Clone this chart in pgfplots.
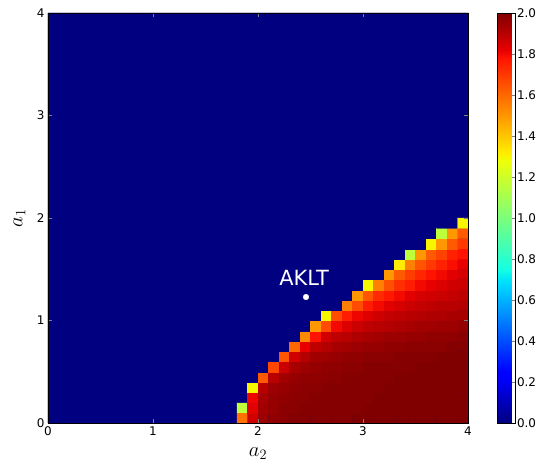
\documentclass[border=0pt]{standalone}
\usepackage{pgfplots}
\pgfplotsset{compat=1.18}
\usepackage{fontspec}
\setmainfont{DejaVu Sans}
\definecolor{jetnavy}{rgb}{0,0,0.5}
\pgfplotsset{
  colormap={mpljet}{rgb(0pt)=(0,0,0.5); rgb(22pt)=(0,0,1); rgb(25pt)=(0,0,1);
    rgb(68pt)=(0,0.86,1); rgb(70pt)=(0,0.9,0.968); rgb(75pt)=(0.081,1,0.887);
    rgb(128pt)=(0.935,1,0.032); rgb(130pt)=(0.968,0.963,0); rgb(132pt)=(1,0.926,0);
    rgb(178pt)=(1,0.074,0); rgb(182pt)=(0.909,0,0); rgb(200pt)=(0.5,0,0)}
}
\begin{document}
\begin{tikzpicture}
\begin{axis}[
  scale only axis, width=420bp, height=410bp,
  xmin=0, xmax=4, ymin=0, ymax=4,
  xtick={0,1,2,3,4}, ytick={0,1,2,3,4},
  tick align=inside, major tick length=4bp,
  xlabel={$a_2$}, ylabel={$a_1$},
  label style={font=\fontsize{20}{24}\selectfont},
  xlabel style={at={(axis description cs:0.5,-0.075)}, anchor=center},
  ylabel style={at={(axis description cs:-0.068,0.5)}, anchor=center},
  ticklabel style={font=\fontsize{12}{14}\selectfont},
  /pgf/number format/assume math mode=true,
  axis background/.style={fill=jetnavy},
  colormap name=mpljet,
  point meta min=0, point meta max=2,
  colorbar,
  colorbar style={
    scale only axis, width=18bp, height=410bp,
    at={(parent axis.north east)}, anchor=north west, xshift=21bp,
    ytick={0,0.2,0.4,0.6,0.8,1,1.2,1.4,1.6,1.8,2},
    ytick pos=right, tick align=inside, major tick length=4bp,
    yticklabel style={font=\fontsize{12}{14}\selectfont, xshift=-2bp,
      /pgf/number format/.cd, fixed, fixed zerofill, precision=1, assume math mode=true},
  },
  axis on top,
]
% blue (zero) regions outside the computed block
\addplot[matrix plot*, mesh/cols=2, point meta=explicit]
  coordinates {(0.45,1)[0] (1.35,1)[0] (0.45,3)[0] (1.35,3)[0]};
\addplot[matrix plot*, mesh/cols=2, point meta=explicit]
  coordinates {(2.35,2.5)[0] (3.45,2.5)[0] (2.35,3.5)[0] (3.45,3.5)[0]};
% block x in [1.8,4], y in [0,2]
\addplot[matrix plot*, mesh/cols=22, point meta=explicit, shader=faceted, faceted color=mapped color, line width=0.3pt]
  coordinates {
(1.85,0.05)[1.58] (1.95,0.05)[1.86] (2.05,0.05)[1.95] (2.15,0.05)[1.97] (2.25,0.05)[1.98] (2.35,0.05)[1.99] (2.45,0.05)[1.99] (2.55,0.05)[1.99] (2.65,0.05)[1.99] (2.75,0.05)[1.99] (2.85,0.05)[1.99] (2.95,0.05)[2] (3.05,0.05)[2] (3.15,0.05)[2] (3.25,0.05)[2] (3.35,0.05)[2] (3.45,0.05)[2] (3.55,0.05)[2] (3.65,0.05)[2] (3.75,0.05)[2] (3.85,0.05)[2] (3.95,0.05)[2]
(1.85,0.15)[1.16] (1.95,0.15)[1.83] (2.05,0.15)[1.94] (2.15,0.15)[1.96] (2.25,0.15)[1.98] (2.35,0.15)[1.98] (2.45,0.15)[1.99] (2.55,0.15)[1.99] (2.65,0.15)[1.99] (2.75,0.15)[1.99] (2.85,0.15)[1.99] (2.95,0.15)[1.99] (3.05,0.15)[2] (3.15,0.15)[2] (3.25,0.15)[2] (3.35,0.15)[2] (3.45,0.15)[2] (3.55,0.15)[2] (3.65,0.15)[2] (3.75,0.15)[2] (3.85,0.15)[2] (3.95,0.15)[2]
(1.85,0.25)[0] (1.95,0.25)[1.81] (2.05,0.25)[1.93] (2.15,0.25)[1.96] (2.25,0.25)[1.97] (2.35,0.25)[1.98] (2.45,0.25)[1.98] (2.55,0.25)[1.99] (2.65,0.25)[1.99] (2.75,0.25)[1.99] (2.85,0.25)[1.99] (2.95,0.25)[1.99] (3.05,0.25)[1.99] (3.15,0.25)[2] (3.25,0.25)[2] (3.35,0.25)[2] (3.45,0.25)[2] (3.55,0.25)[2] (3.65,0.25)[2] (3.75,0.25)[2] (3.85,0.25)[2] (3.95,0.25)[2]
(1.85,0.35)[0] (1.95,0.35)[1.3] (2.05,0.35)[1.9] (2.15,0.35)[1.95] (2.25,0.35)[1.96] (2.35,0.35)[1.97] (2.45,0.35)[1.98] (2.55,0.35)[1.98] (2.65,0.35)[1.99] (2.75,0.35)[1.99] (2.85,0.35)[1.99] (2.95,0.35)[1.99] (3.05,0.35)[1.99] (3.15,0.35)[1.99] (3.25,0.35)[2] (3.35,0.35)[2] (3.45,0.35)[2] (3.55,0.35)[2] (3.65,0.35)[2] (3.75,0.35)[2] (3.85,0.35)[2] (3.95,0.35)[2]
(1.85,0.45)[0] (1.95,0.45)[0] (2.05,0.45)[1.63] (2.15,0.45)[1.9] (2.25,0.45)[1.94] (2.35,0.45)[1.96] (2.45,0.45)[1.97] (2.55,0.45)[1.97] (2.65,0.45)[1.98] (2.75,0.45)[1.98] (2.85,0.45)[1.99] (2.95,0.45)[1.99] (3.05,0.45)[1.99] (3.15,0.45)[1.99] (3.25,0.45)[1.99] (3.35,0.45)[2] (3.45,0.45)[2] (3.55,0.45)[2] (3.65,0.45)[2] (3.75,0.45)[2] (3.85,0.45)[2] (3.95,0.45)[2]
(1.85,0.55)[0] (1.95,0.55)[0] (2.05,0.55)[0] (2.15,0.55)[1.67] (2.25,0.55)[1.87] (2.35,0.55)[1.93] (2.45,0.55)[1.95] (2.55,0.55)[1.96] (2.65,0.55)[1.97] (2.75,0.55)[1.97] (2.85,0.55)[1.98] (2.95,0.55)[1.98] (3.05,0.55)[1.99] (3.15,0.55)[1.99] (3.25,0.55)[1.99] (3.35,0.55)[1.99] (3.45,0.55)[1.99] (3.55,0.55)[2] (3.65,0.55)[2] (3.75,0.55)[2] (3.85,0.55)[2] (3.95,0.55)[2]
(1.85,0.65)[0] (1.95,0.65)[0] (2.05,0.65)[0] (2.15,0.65)[0] (2.25,0.65)[1.64] (2.35,0.65)[1.86] (2.45,0.65)[1.91] (2.55,0.65)[1.94] (2.65,0.65)[1.95] (2.75,0.65)[1.96] (2.85,0.65)[1.97] (2.95,0.65)[1.97] (3.05,0.65)[1.98] (3.15,0.65)[1.98] (3.25,0.65)[1.98] (3.35,0.65)[1.99] (3.45,0.65)[1.99] (3.55,0.65)[1.99] (3.65,0.65)[1.99] (3.75,0.65)[2] (3.85,0.65)[2] (3.95,0.65)[2]
(1.85,0.75)[0] (1.95,0.75)[0] (2.05,0.75)[0] (2.15,0.75)[0] (2.25,0.75)[0] (2.35,0.75)[1.6] (2.45,0.75)[1.82] (2.55,0.75)[1.89] (2.65,0.75)[1.91] (2.75,0.75)[1.93] (2.85,0.75)[1.94] (2.95,0.75)[1.95] (3.05,0.75)[1.96] (3.15,0.75)[1.96] (3.25,0.75)[1.97] (3.35,0.75)[1.97] (3.45,0.75)[1.98] (3.55,0.75)[1.98] (3.65,0.75)[1.98] (3.75,0.75)[1.98] (3.85,0.75)[1.99] (3.95,0.75)[1.99]
(1.85,0.85)[0] (1.95,0.85)[0] (2.05,0.85)[0] (2.15,0.85)[0] (2.25,0.85)[0] (2.35,0.85)[0] (2.45,0.85)[1.53] (2.55,0.85)[1.78] (2.65,0.85)[1.86] (2.75,0.85)[1.89] (2.85,0.85)[1.9] (2.95,0.85)[1.92] (3.05,0.85)[1.93] (3.15,0.85)[1.94] (3.25,0.85)[1.95] (3.35,0.85)[1.95] (3.45,0.85)[1.96] (3.55,0.85)[1.96] (3.65,0.85)[1.97] (3.75,0.85)[1.97] (3.85,0.85)[1.97] (3.95,0.85)[1.98]
(1.85,0.95)[0] (1.95,0.95)[0] (2.05,0.95)[0] (2.15,0.95)[0] (2.25,0.95)[0] (2.35,0.95)[0] (2.45,0.95)[0] (2.55,0.95)[1.5] (2.65,0.95)[1.66] (2.75,0.95)[1.8] (2.85,0.95)[1.84] (2.95,0.95)[1.87] (3.05,0.95)[1.89] (3.15,0.95)[1.9] (3.25,0.95)[1.91] (3.35,0.95)[1.92] (3.45,0.95)[1.93] (3.55,0.95)[1.94] (3.65,0.95)[1.94] (3.75,0.95)[1.95] (3.85,0.95)[1.95] (3.95,0.95)[1.96]
(1.85,1.05)[0] (1.95,1.05)[0] (2.05,1.05)[0] (2.15,1.05)[0] (2.25,1.05)[0] (2.35,1.05)[0] (2.45,1.05)[0] (2.55,1.05)[0] (2.65,1.05)[1.3] (2.75,1.05)[1.66] (2.85,1.05)[1.76] (2.95,1.05)[1.81] (3.05,1.05)[1.84] (3.15,1.05)[1.86] (3.25,1.05)[1.88] (3.35,1.05)[1.89] (3.45,1.05)[1.9] (3.55,1.05)[1.91] (3.65,1.05)[1.92] (3.75,1.05)[1.92] (3.85,1.05)[1.93] (3.95,1.05)[1.93]
(1.85,1.15)[0] (1.95,1.15)[0] (2.05,1.15)[0] (2.15,1.15)[0] (2.25,1.15)[0] (2.35,1.15)[0] (2.45,1.15)[0] (2.55,1.15)[0] (2.65,1.15)[0] (2.75,1.15)[0] (2.85,1.15)[1.55] (2.95,1.15)[1.66] (3.05,1.15)[1.76] (3.15,1.15)[1.8] (3.25,1.15)[1.83] (3.35,1.15)[1.85] (3.45,1.15)[1.87] (3.55,1.15)[1.88] (3.65,1.15)[1.89] (3.75,1.15)[1.9] (3.85,1.15)[1.9] (3.95,1.15)[1.91]
(1.85,1.25)[0] (1.95,1.25)[0] (2.05,1.25)[0] (2.15,1.25)[0] (2.25,1.25)[0] (2.35,1.25)[0] (2.45,1.25)[0] (2.55,1.25)[0] (2.65,1.25)[0] (2.75,1.25)[0] (2.85,1.25)[0] (2.95,1.25)[1.5] (3.05,1.25)[1.64] (3.15,1.25)[1.73] (3.25,1.25)[1.77] (3.35,1.25)[1.8] (3.45,1.25)[1.83] (3.55,1.25)[1.85] (3.65,1.25)[1.86] (3.75,1.25)[1.87] (3.85,1.25)[1.88] (3.95,1.25)[1.89]
(1.85,1.35)[0] (1.95,1.35)[0] (2.05,1.35)[0] (2.15,1.35)[0] (2.25,1.35)[0] (2.35,1.35)[0] (2.45,1.35)[0] (2.55,1.35)[0] (2.65,1.35)[0] (2.75,1.35)[0] (2.85,1.35)[0] (2.95,1.35)[0] (3.05,1.35)[1.3] (3.15,1.35)[1.55] (3.25,1.35)[1.65] (3.35,1.35)[1.72] (3.45,1.35)[1.76] (3.55,1.35)[1.8] (3.65,1.35)[1.82] (3.75,1.35)[1.84] (3.85,1.35)[1.86] (3.95,1.35)[1.87]
(1.85,1.45)[0] (1.95,1.45)[0] (2.05,1.45)[0] (2.15,1.45)[0] (2.25,1.45)[0] (2.35,1.45)[0] (2.45,1.45)[0] (2.55,1.45)[0] (2.65,1.45)[0] (2.75,1.45)[0] (2.85,1.45)[0] (2.95,1.45)[0] (3.05,1.45)[0] (3.15,1.45)[0] (3.25,1.45)[1.5] (3.35,1.45)[1.63] (3.45,1.45)[1.69] (3.55,1.45)[1.74] (3.65,1.45)[1.78] (3.75,1.45)[1.8] (3.85,1.45)[1.83] (3.95,1.45)[1.85]
(1.85,1.55)[0] (1.95,1.55)[0] (2.05,1.55)[0] (2.15,1.55)[0] (2.25,1.55)[0] (2.35,1.55)[0] (2.45,1.55)[0] (2.55,1.55)[0] (2.65,1.55)[0] (2.75,1.55)[0] (2.85,1.55)[0] (2.95,1.55)[0] (3.05,1.55)[0] (3.15,1.55)[0] (3.25,1.55)[0] (3.35,1.55)[1.32] (3.45,1.55)[1.55] (3.55,1.55)[1.64] (3.65,1.55)[1.7] (3.75,1.55)[1.75] (3.85,1.55)[1.79] (3.95,1.55)[1.82]
(1.85,1.65)[0] (1.95,1.65)[0] (2.05,1.65)[0] (2.15,1.65)[0] (2.25,1.65)[0] (2.35,1.65)[0] (2.45,1.65)[0] (2.55,1.65)[0] (2.65,1.65)[0] (2.75,1.65)[0] (2.85,1.65)[0] (2.95,1.65)[0] (3.05,1.65)[0] (3.15,1.65)[0] (3.25,1.65)[0] (3.35,1.65)[0] (3.45,1.65)[1.16] (3.55,1.65)[1.5] (3.65,1.65)[1.63] (3.75,1.65)[1.68] (3.85,1.65)[1.75] (3.95,1.65)[1.78]
(1.85,1.75)[0] (1.95,1.75)[0] (2.05,1.75)[0] (2.15,1.75)[0] (2.25,1.75)[0] (2.35,1.75)[0] (2.45,1.75)[0] (2.55,1.75)[0] (2.65,1.75)[0] (2.75,1.75)[0] (2.85,1.75)[0] (2.95,1.75)[0] (3.05,1.75)[0] (3.15,1.75)[0] (3.25,1.75)[0] (3.35,1.75)[0] (3.45,1.75)[0] (3.55,1.75)[0] (3.65,1.75)[1.3] (3.75,1.75)[1.5] (3.85,1.75)[1.63] (3.95,1.75)[1.7]
(1.85,1.85)[0] (1.95,1.85)[0] (2.05,1.85)[0] (2.15,1.85)[0] (2.25,1.85)[0] (2.35,1.85)[0] (2.45,1.85)[0] (2.55,1.85)[0] (2.65,1.85)[0] (2.75,1.85)[0] (2.85,1.85)[0] (2.95,1.85)[0] (3.05,1.85)[0] (3.15,1.85)[0] (3.25,1.85)[0] (3.35,1.85)[0] (3.45,1.85)[0] (3.55,1.85)[0] (3.65,1.85)[0] (3.75,1.85)[1.16] (3.85,1.85)[1.5] (3.95,1.85)[1.63]
(1.85,1.95)[0] (1.95,1.95)[0] (2.05,1.95)[0] (2.15,1.95)[0] (2.25,1.95)[0] (2.35,1.95)[0] (2.45,1.95)[0] (2.55,1.95)[0] (2.65,1.95)[0] (2.75,1.95)[0] (2.85,1.95)[0] (2.95,1.95)[0] (3.05,1.95)[0] (3.15,1.95)[0] (3.25,1.95)[0] (3.35,1.95)[0] (3.45,1.95)[0] (3.55,1.95)[0] (3.65,1.95)[0] (3.75,1.95)[0] (3.85,1.95)[0] (3.95,1.95)[1.3]
};
\addplot[only marks, mark=*, white, mark size=2.8bp] coordinates {(2.457,1.229)};
\node[white, font=\fontsize{21}{25}\selectfont] at (axis cs:2.44,1.415) {AKLT};
\end{axis}
\pgfresetboundingbox
\path ([xshift=-48bp,yshift=-38bp]current axis.south west) rectangle ([xshift=73bp,yshift=13bp]current axis.north east);
\end{tikzpicture}
\end{document}
